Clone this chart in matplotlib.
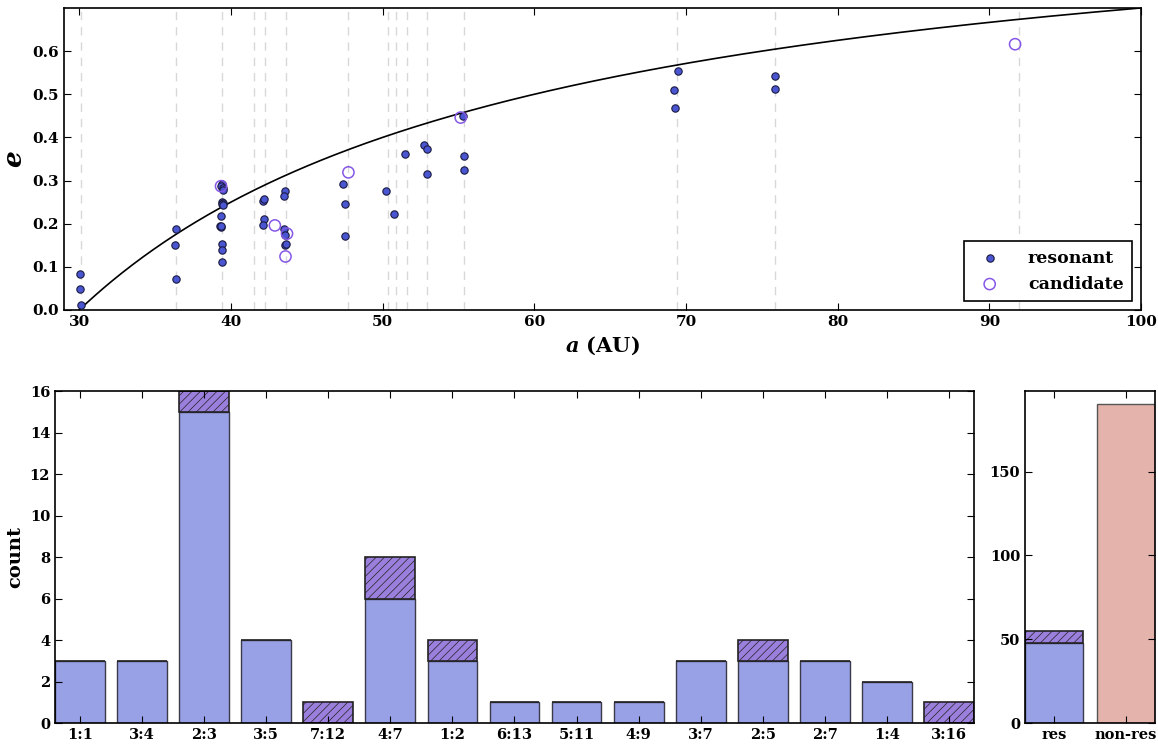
import numpy as np
import matplotlib
matplotlib.use('Agg')
import matplotlib.pyplot as plt

plt.rcParams['font.family'] = 'DejaVu Serif'
plt.rcParams['font.weight'] = 'bold'
plt.rcParams['axes.labelweight'] = 'bold'
plt.rcParams['mathtext.fontset'] = 'custom'
plt.rcParams['mathtext.it'] = 'DejaVu Serif:italic:bold'
plt.rcParams['mathtext.rm'] = 'DejaVu Serif:bold'
plt.rcParams['hatch.linewidth'] = 0.5

# resonance locations drawn as dashed lines (AU)
res_lines = [30.1, 36.4, 39.4, 41.55, 42.25, 43.65, 47.7, 50.35, 50.9, 51.6, 52.9,
             55.4, 69.4, 75.9, 91.95]

# resonant objects
res_a = [30.05, 30.05, 30.15,
         36.35, 36.3, 36.4,
         39.4, 39.35, 39.45, 39.45, 39.4, 39.45, 39.4, 39.35, 39.3, 39.35, 39.35,
         39.4, 39.4, 39.45, 39.4,
         42.15, 42.2, 42.2, 42.15,
         43.55, 43.5, 43.5, 43.55, 43.6, 43.65,
         47.4, 47.5, 47.55,
         50.25,
         50.75,
         51.45,
         52.75, 52.9, 52.95,
         55.3, 55.4, 55.35,
         69.5, 69.2, 69.3,
         75.85, 75.87]
res_e = [0.083, 0.048, 0.012,
         0.072, 0.151, 0.187,
         0.291, 0.287, 0.282, 0.279, 0.250, 0.247, 0.245, 0.219, 0.195, 0.193, 0.194,
         0.153, 0.139, 0.243, 0.111,
         0.253, 0.257, 0.212, 0.197,
         0.275, 0.264, 0.187, 0.173, 0.151, 0.154,
         0.292, 0.245, 0.171,
         0.276,
         0.222,
         0.361,
         0.383, 0.373, 0.316,
         0.450, 0.358, 0.324,
         0.553, 0.509, 0.468,
         0.543, 0.512]

# candidate objects
cand_a = [39.35, 42.9, 43.7, 43.6, 47.75, 55.15, 91.7]
cand_e = [0.287, 0.196, 0.177, 0.124, 0.319, 0.446, 0.616]

# histogram
res_names = ['1:1', '3:4', '2:3', '3:5', '7:12', '4:7', '1:2', '6:13', '5:11',
             '4:9', '3:7', '2:5', '2:7', '1:4', '3:16']
n_res = [3, 3, 15, 4, 0, 6, 3, 1, 1, 1, 3, 3, 3, 2, 0]
n_cand = [0, 0, 1, 0, 1, 2, 1, 0, 0, 0, 0, 1, 0, 0, 1]

tot_names = ['res', 'non-res']
tot_res = 48
tot_cand = 7
tot_nonres = 190

blue = '#98a1e6'
purple = '#9b7fdd'
pink = '#e4b3ac'
dot = '#4a55d2'
cand_col = '#8658e6'

fig = plt.figure(figsize=(11.58, 7.45), dpi=100)

# top: a-e plane
ax = fig.add_axes([0.0553, 0.5839, 0.930, 0.4054])
for x in res_lines:
    ax.axvline(x, color='#d8d8d8', ls='--', lw=1, dashes=(6, 5), zorder=0)
aa = np.linspace(30, 100, 400)
ax.plot(aa, 1 - 30 / aa, color='k', lw=1.2, zorder=1)
ax.scatter(res_a, res_e, s=28, c=dot, edgecolors='#1a1a40', linewidths=0.8,
           zorder=3, label='resonant')
ax.scatter(cand_a, cand_e, s=65, facecolors='none', edgecolors=cand_col,
           linewidths=1.1, zorder=4, label='candidate')
ax.set_xlim(29, 100)
ax.set_ylim(0, 0.7)
ax.set_xticks(range(30, 101, 10))
ax.set_yticks(np.arange(0, 0.61, 0.1))
ax.set_yticklabels(['%.1f' % v for v in np.arange(0, 0.61, 0.1)])
ax.set_xlabel(r'$a$ (AU)', fontsize=15, fontweight='bold')
ax.set_ylabel(r'$e$', fontsize=19)
ax.tick_params(direction='in', top=True, right=True, labelsize=11, length=5)
leg = ax.legend(loc='lower right', scatterpoints=1, fontsize=12.5,
                fancybox=False, framealpha=1, edgecolor='k', handletextpad=1.2,
                borderpad=0.5)
leg.get_frame().set_linewidth(1.2)

# bottom left: counts per resonance
ax2 = fig.add_axes([0.0475, 0.0295, 0.7936, 0.4456])
x = np.arange(len(res_names))
ax2.bar(x, n_res, width=0.8, color=blue, edgecolor='#3a3a4a', lw=1)
ax2.bar(x, n_cand, width=0.8, bottom=n_res, color=purple, edgecolor='#222222',
        lw=1.2, hatch='////')
ax2.set_xlim(-0.4, len(res_names) - 0.6)
ax2.set_ylim(0, 16)
ax2.set_yticks(range(0, 17, 2))
ax2.set_xticks(x)
ax2.set_xticklabels(res_names)
ax2.set_ylabel('count', fontsize=14, fontweight='bold')
ax2.tick_params(direction='in', top=True, right=True, labelsize=10.5, length=5)

# bottom right: totals
ax3 = fig.add_axes([0.8851, 0.0295, 0.1123, 0.4456])
ax3.bar([0], [tot_res], width=0.8, color=blue, edgecolor='#3a3a4a', lw=1)
ax3.bar([0], [tot_cand], width=0.8, bottom=[tot_res], color=purple,
        edgecolor='#222222', lw=1.2, hatch='////')
ax3.bar([1], [tot_nonres], width=0.8, color=pink, edgecolor='#555555', lw=1)
ax3.set_xlim(-0.4, 1.4)
ax3.set_ylim(0, 198)
ax3.set_yticks([0, 50, 100, 150])
ax3.set_xticks([0, 1])
ax3.set_xticklabels(tot_names)
ax3.tick_params(direction='in', top=True, right=True, labelsize=10.5, length=5)

for a_ in (ax, ax2, ax3):
    for sp in a_.spines.values():
        sp.set_linewidth(1.2)

fig.savefig('out.png', dpi=100)
